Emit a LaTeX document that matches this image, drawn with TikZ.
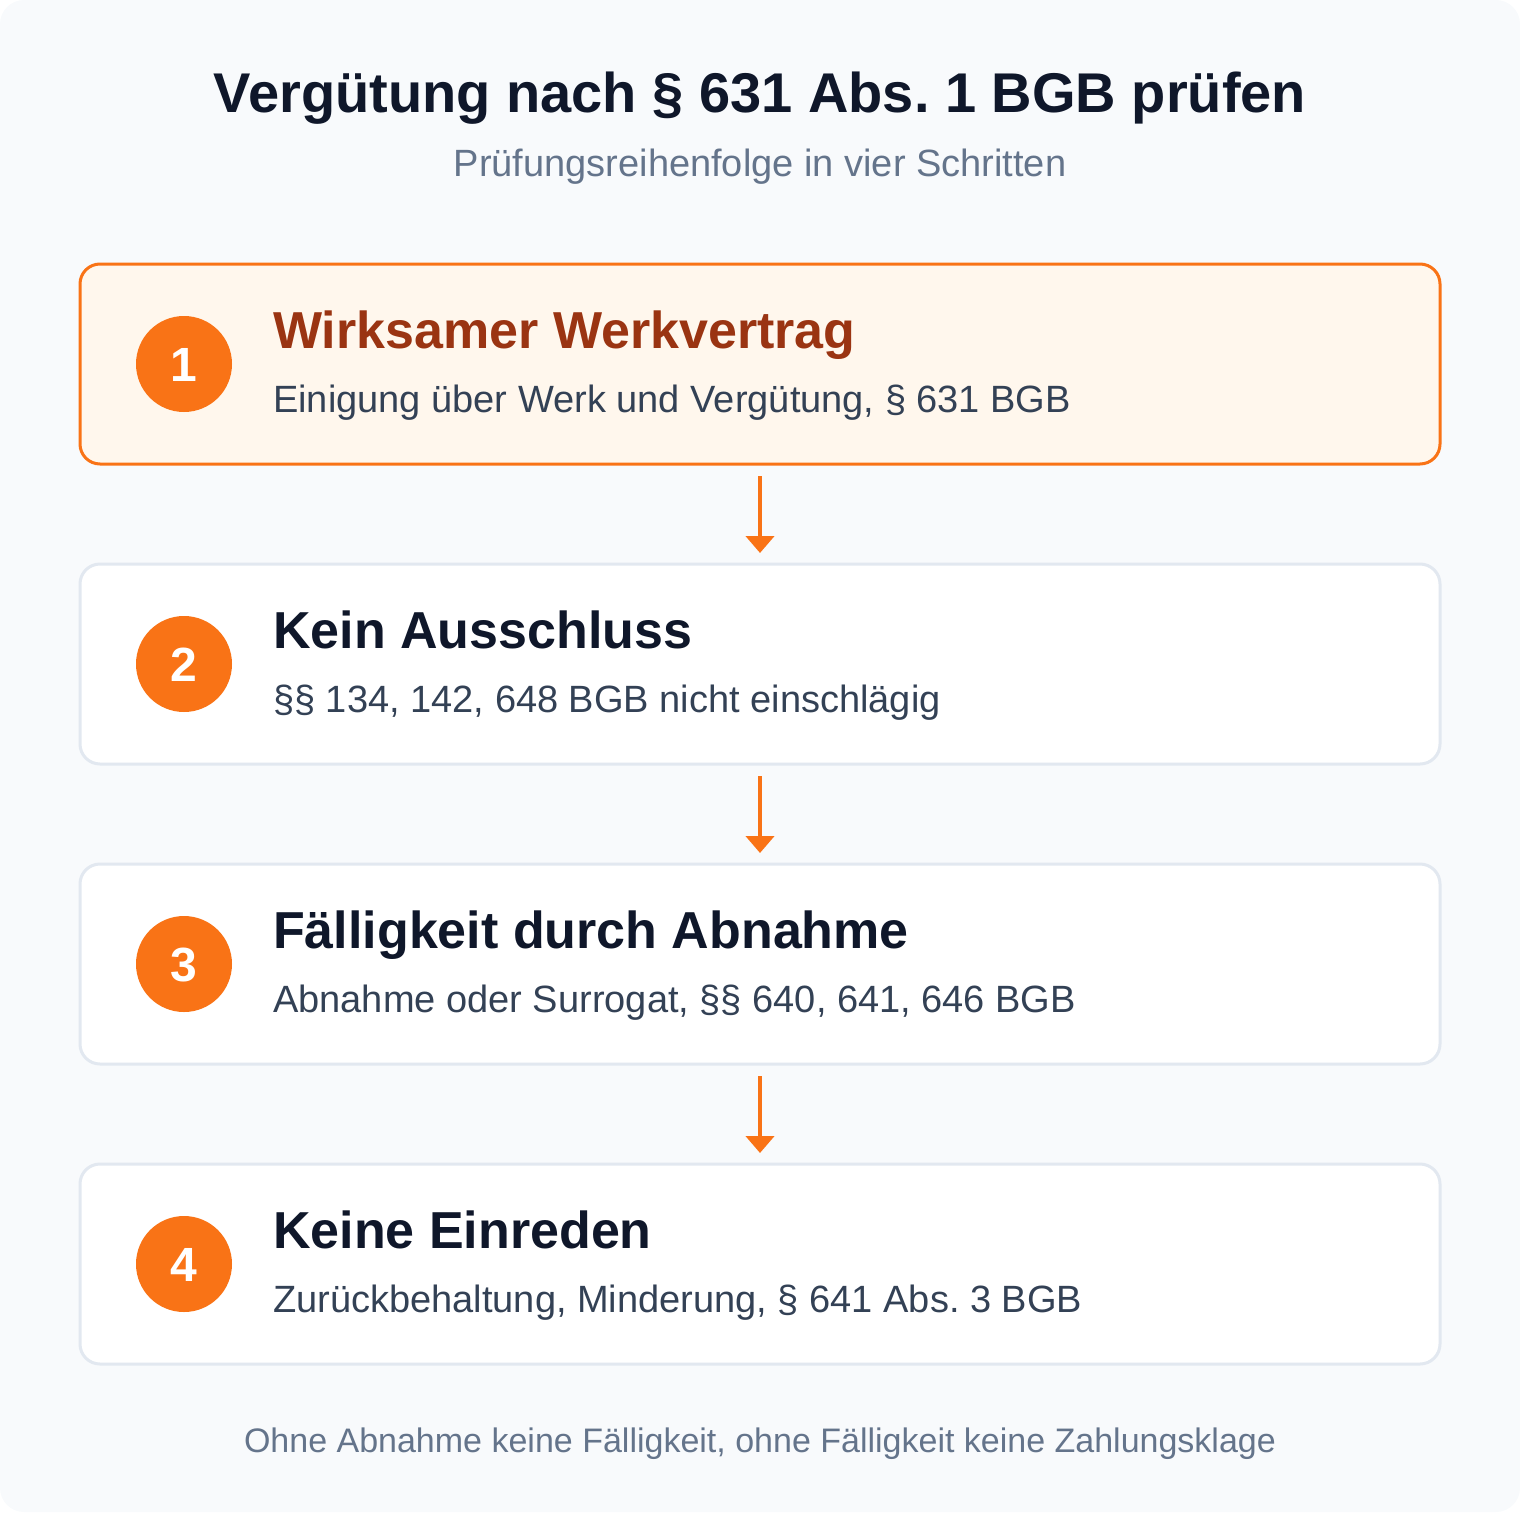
\documentclass[tikz,border=0pt]{standalone}
\usepackage{fontspec}
\setmainfont{Liberation Sans}
\frenchspacing
\usetikzlibrary{arrows.meta}
\definecolor{bgc}{HTML}{F8FAFC}
\definecolor{orangec}{HTML}{F97316}
\definecolor{orangefill}{HTML}{FFF7ED}
\definecolor{brownc}{HTML}{9A3412}
\definecolor{darkc}{HTML}{0F172A}
\definecolor{slatec}{HTML}{334155}
\definecolor{greyc}{HTML}{64748B}
\definecolor{borderc}{HTML}{E2E8F0}
\tikzset{
  stepbox/.style={draw=borderc, line width=3pt, fill=white, rounded corners=20pt, minimum width=1360pt, minimum height=200pt, inner sep=0pt, outer sep=0pt},
  activebox/.style={stepbox, draw=orangec, fill=orangefill},
  numcirc/.style={circle, fill=orangec, minimum size=96pt, inner sep=0pt},
  numtext/.style={anchor=base, text=white, font=\fontsize{48}{56}\selectfont\bfseries, inner sep=0pt},
  steptitle/.style={anchor=base west, text=darkc, font=\fontsize{52}{60}\selectfont\bfseries, inner sep=0pt},
  stepsub/.style={anchor=base west, text=slatec, font=\fontsize{38}{44}\selectfont, inner sep=0pt},
  flowarrow/.style={draw=orangec, line width=4.5pt, -{Triangle[width=28pt,length=17pt]}, shorten <=12pt, shorten >=11pt},
}
\begin{document}
\begin{tikzpicture}[x=1pt,y=-1pt]
\useasboundingbox (0,0) rectangle (1520,1512);
\fill[bgc, rounded corners=24pt] (0,0) rectangle (1520,1512);
\node[anchor=base, text=darkc, font=\fontsize{56}{64}\selectfont\bfseries, inner sep=0pt] (title) at (760,112) {Vergütung nach § 631 Abs. 1 BGB prüfen};
\node[anchor=base, text=greyc, font=\fontsize{38}{44}\selectfont, inner sep=0pt] (subtitle) at (760,176) {Prüfungsreihenfolge in vier Schritten};
% boxes
\node[activebox] (b1) at (760,364) {};
\node[stepbox] (b2) at (760,664) {};
\node[stepbox] (b3) at (760,964) {};
\node[stepbox] (b4) at (760,1264) {};
% circles
\node[numcirc] (c1) at (184,364) {};
\node[numcirc] (c2) at (184,664) {};
\node[numcirc] (c3) at (184,964) {};
\node[numcirc] (c4) at (184,1264) {};
\node[numtext] (n1) at (184,381) {1};
\node[numtext] (n2) at (184,681) {2};
\node[numtext] (n3) at (184,981) {3};
\node[numtext] (n4) at (184,1281) {4};
% texts
\node[steptitle, text=brownc] (t1) at (273,348) {Wirksamer Werkvertrag};
\node[stepsub] (s1) at (273,412) {Einigung über Werk und Vergütung, § 631 BGB};
\node[steptitle] (t2) at (273,648) {Kein Ausschluss};
\node[stepsub] (s2) at (273,712) {§§ 134, 142, 648 BGB nicht einschlägig};
\node[steptitle] (t3) at (273,948) {Fälligkeit durch Abnahme};
\node[stepsub] (s3) at (273,1012) {Abnahme oder Surrogat, §§ 640, 641, 646 BGB};
\node[steptitle] (t4) at (273,1248) {Keine Einreden};
\node[stepsub] (s4) at (273,1312) {Zurückbehaltung, Minderung, § 641 Abs. 3 BGB};
% arrows
\draw[flowarrow] (b1.south) -- (b2.north);
\draw[flowarrow] (b2.south) -- (b3.north);
\draw[flowarrow] (b3.south) -- (b4.north);
% footer
\node[anchor=base, text=greyc, font=\fontsize{34}{40}\selectfont, inner sep=0pt] (footer) at (760,1452) {Ohne Abnahme keine Fälligkeit, ohne Fälligkeit keine Zahlungsklage};
\end{tikzpicture}
\end{document}
